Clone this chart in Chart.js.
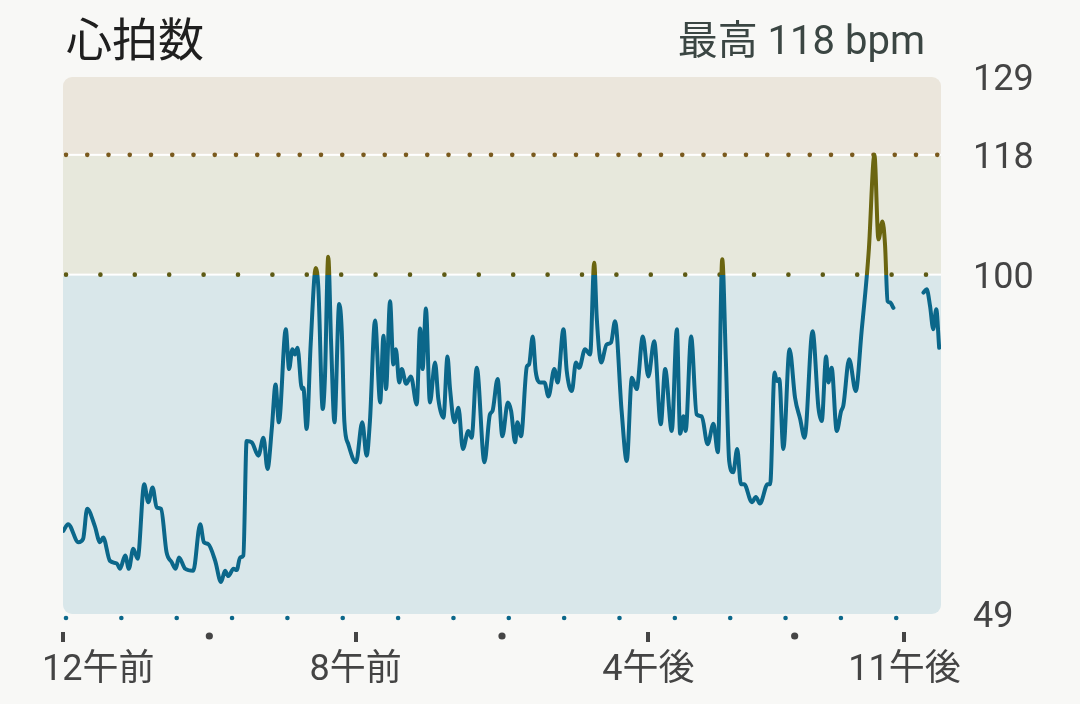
<!DOCTYPE html>
<html lang="ja">
<head>
<meta charset="utf-8">
<title>心拍数</title>
<script src="https://cdn.jsdelivr.net/npm/chart.js@4.4.1/dist/chart.umd.min.js"></script>
<style>
  html, body { margin: 0; padding: 0; background: #f8f8f6; }
  #wrap { position: relative; width: 1080px; height: 704px; overflow: hidden; }
  canvas { position: absolute; left: 0; top: 0; }
  .head { position: absolute; white-space: nowrap; font-family: Roboto, "Noto Sans CJK JP", sans-serif; }
  #title { left: 66px; top: 15px; font-size: 46px; line-height: 50px; color: #1f1f1f; }
  #peak { right: 155px; top: 19px; font-size: 40px; line-height: 44px; color: #3b4643; }
</style>
</head>
<body>
<div id="wrap">
  <canvas id="chart" width="1080" height="704"></canvas>
  <div class="head" id="title">心拍数</div>
  <div class="head" id="peak"></div>
</div>
<script>
// Heart rate samples: hour of day and bpm (null = no reading)
const hours = [
  0.01, 0.14, 0.42, 0.55, 0.66, 0.87, 1.01, 1.10, 1.28, 1.47,
  1.56, 1.70, 1.80, 1.92, 2.04, 2.22, 2.33, 2.45, 2.56, 2.68,
  2.83, 2.97, 3.08, 3.17, 3.34, 3.56, 3.75, 3.85, 3.97, 4.16,
  4.32, 4.43, 4.52, 4.66, 4.75, 4.84, 4.93, 5.02, 5.16, 5.34,
  5.48, 5.59, 5.71, 5.81, 5.90, 6.09, 6.18, 6.27, 6.34, 6.41,
  6.53, 6.57, 6.66, 6.77, 6.91, 6.98, 7.10, 7.16, 7.25, 7.33,
  7.42, 7.55, 7.62, 7.69, 7.80, 8.01, 8.18, 8.30, 8.39, 8.53,
  8.67, 8.76, 8.83, 8.94, 9.03, 9.10, 9.19, 9.26, 9.38, 9.51,
  9.67, 9.76, 9.83, 9.92, 10.03, 10.17, 10.26, 10.40, 10.51, 10.58,
  10.70, 10.81, 10.93, 11.08, 11.17, 11.31, 11.52, 11.67, 11.74, 11.88,
  12.01, 12.16, 12.25, 12.36, 12.42, 12.52, 12.68, 12.74, 12.84, 12.92,
  13.04, 13.16, 13.27, 13.43, 13.52, 13.68, 13.77, 13.91, 14.02, 14.11,
  14.27, 14.41, 14.52, 14.59, 14.71, 14.86, 14.98, 15.09, 15.27, 15.41,
  15.55, 15.68, 15.85, 16.00, 16.16, 16.34, 16.46, 16.64, 16.78, 16.87,
  16.96, 17.02, 17.17, 17.32, 17.46, 17.62, 17.78, 17.90, 18.02, 18.12,
  18.21, 18.32, 18.43, 18.53, 18.62, 18.83, 18.94, 19.05, 19.26, 19.33,
  19.45, 19.51, 19.58, 19.69, 19.86, 20.01, 20.15, 20.27, 20.49, 20.65,
  20.74, 20.86, 20.92, 21.01, 21.15, 21.27, 21.33, 21.49, 21.67, 21.83,
  21.97, 22.03, 22.18, 22.29, 22.40, 22.47, 22.54, 22.61, 22.70, 23.10,
  23.52, 23.61, 23.70, 23.79, 23.87, 23.95
];
const bpm = [
  61.5, 62.5, 59.8, 60.3, 64.8, 62.2, 59.8, 60.5, 57.0, 56.6,
  55.8, 57.8, 55.8, 58.8, 57.3, 68.5, 65.8, 68.0, 65.0, 64.8,
  58.3, 56.8, 55.8, 57.5, 55.8, 55.5, 62.5, 59.8, 59.5, 57.0,
  53.8, 55.5, 54.7, 55.8, 55.6, 57.5, 57.8, 75.0, 74.8, 72.8,
  75.5, 70.8, 77.0, 83.5, 77.8, 91.8, 85.8, 88.8, 88.0, 89.0,
  82.8, 83.0, 76.8, 89.5, 101.0, 98.0, 79.8, 84.5, 102.7, 89.5,
  77.8, 95.6, 91.5, 78.0, 74.5, 71.8, 77.8, 72.8, 78.0, 93.1,
  80.8, 90.8, 82.8, 96.0, 86.5, 88.8, 83.8, 85.8, 83.6, 84.7,
  80.5, 91.9, 85.8, 94.9, 80.8, 86.8, 81.3, 78.5, 87.7, 82.8,
  77.8, 80.0, 73.8, 76.5, 75.5, 86.0, 71.8, 79.0, 79.5, 84.3,
  75.7, 80.8, 79.5, 74.8, 77.8, 75.7, 86.2, 86.5, 90.7, 85.5,
  83.8, 83.8, 81.7, 85.8, 83.8, 91.8, 85.5, 82.5, 86.8, 86.0,
  88.8, 88.0, 101.8, 93.5, 86.8, 89.5, 89.8, 93.0, 79.5, 72.0,
  84.5, 82.8, 90.7, 84.7, 90.0, 77.5, 85.8, 76.5, 91.8, 76.1,
  78.7, 76.5, 90.7, 79.0, 78.7, 74.5, 77.6, 73.3, 102.3, 87.0,
  72.0, 70.3, 73.8, 68.5, 68.5, 65.8, 66.6, 65.6, 68.5, 68.5,
  85.3, 84.0, 84.3, 73.8, 88.8, 81.5, 78.3, 75.5, 91.5, 80.0,
  78.0, 87.7, 83.8, 86.0, 76.5, 79.5, 80.3, 87.3, 82.5, 91.5,
  99.7, 104.0, 118, 105.3, 108.0, 104.5, 96.0, 95.8, 95.0, null,
  97.3, 97.8, 95.3, 91.8, 94.8, 89.0
];

// Axes
const xTickHours = [0, 8, 16, 23];
const xTickLabels = ["12午前", "8午前", "4午後", "11午後"];
const xDotHours = [4, 12, 20];
const yMin = 49;
const yMax = 129.7; // top of the panel, labelled 129
const yTicks = [49, 100, 118, 129];
const zoneLow = 100;
const zoneHigh = 118;

const BLUE = "#0b678a";
const OLIVE = "#6b6510";
const LABEL_FONT = { family: "Roboto, 'Noto Sans CJK JP', sans-serif", size: 36, lineHeight: 1.2 };
const X_PAD = 35;

document.getElementById("peak").textContent =
  "最高 " + Math.max(...bpm.filter((v) => v !== null)) + " bpm";

function dotRow(ctx, x0, x1, y, step, color, r) {
  ctx.fillStyle = color;
  for (let x = x0; x <= x1; x += step) {
    ctx.beginPath();
    ctx.arc(x, y, r, 0, Math.PI * 2);
    ctx.fill();
  }
}

const zonePlugin = {
  id: "zones",
  beforeDatasetsDraw(chart) {
    const { ctx, chartArea: a, scales } = chart;
    const yHigh = scales.y.getPixelForValue(zoneHigh);
    const yLow = scales.y.getPixelForValue(zoneLow);
    ctx.save();
    ctx.beginPath();
    ctx.roundRect(a.left, a.top, a.width, a.height, 9);
    ctx.clip();
    ctx.fillStyle = "#ebe6dc";
    ctx.fillRect(a.left, a.top, a.width, yHigh - a.top);
    ctx.fillStyle = "#e7e8dc";
    ctx.fillRect(a.left, yHigh, a.width, yLow - yHigh);
    ctx.fillStyle = "#d9e7ea";
    ctx.fillRect(a.left, yLow, a.width, a.bottom - yLow);
    // white zone separators
    ctx.fillStyle = "#ffffff";
    ctx.fillRect(a.left, yHigh - 1, a.width, 2);
    ctx.fillRect(a.left, yLow - 1, a.width, 2);
    ctx.restore();
    ctx.save();
    dotRow(ctx, a.left + 3, a.right - 2, yHigh, 21.25, "#7a5a1e", 2.3);
    dotRow(ctx, a.left + 3, a.right - 2, yLow, 34.4, "#5e5a14", 2.3);
    ctx.restore();
  },
  afterDraw(chart) {
    const { ctx, chartArea: a, scales } = chart;
    const x = scales.x;
    ctx.save();
    dotRow(ctx, a.left + 3, a.right - 20, a.bottom + 4, 55.35, BLUE, 2.3);
    ctx.fillStyle = "#454545";
    for (const h of xTickHours) {
      const px = x.getPixelForValue(h);
      ctx.fillRect(Math.round(px) - 2, a.bottom + 18, 4, 10);
    }
    for (const h of xDotHours) {
      ctx.beginPath();
      ctx.arc(x.getPixelForValue(h), a.bottom + 22, 3.6, 0, Math.PI * 2);
      ctx.fill();
    }
    // first label is kept inside the left margin instead of centred on its tick
    ctx.font = LABEL_FONT.size + "px " + LABEL_FONT.family;
    ctx.fillStyle = "#444444";
    ctx.textAlign = "left";
    ctx.textBaseline = "middle";
    const w = ctx.measureText(xTickLabels[0]).width;
    const left = Math.max(x.getPixelForValue(xTickHours[0]) - w / 2, 42);
    ctx.fillText(xTickLabels[0], left, x.top + X_PAD + (LABEL_FONT.size * LABEL_FONT.lineHeight) / 2);
    ctx.restore();
  },
};

function lineColor(context) {
  const { chart } = context;
  const a = chart.chartArea;
  if (!a) return BLUE;
  const yLow = chart.scales.y.getPixelForValue(zoneLow);
  const g = chart.ctx.createLinearGradient(0, a.top, 0, a.bottom);
  const stop = Math.min(Math.max((yLow - a.top) / (a.bottom - a.top), 0), 1);
  g.addColorStop(0, OLIVE);
  g.addColorStop(stop, OLIVE);
  g.addColorStop(stop, BLUE);
  g.addColorStop(1, BLUE);
  return g;
}

new Chart(document.getElementById("chart"), {
  type: "line",
  data: {
    datasets: [
      {
        data: hours.map((h, i) => ({ x: h, y: bpm[i] })),
        borderColor: lineColor,
        borderWidth: 4,
        pointRadius: 0,
        cubicInterpolationMode: "monotone",
        spanGaps: false,
        borderCapStyle: "round",
        borderJoinStyle: "round",
      },
    ],
  },
  options: {
    responsive: false,
    animation: false,
    devicePixelRatio: 1,
    layout: { padding: { left: 63, top: 77, right: 0, bottom: 0 } },
    plugins: { legend: { display: false }, tooltip: { enabled: false } },
    scales: {
      x: {
        type: "linear",
        min: 0,
        max: 24,
        grid: { display: false, drawTicks: false },
        border: { display: false },
        afterBuildTicks: (scale) => {
          scale.ticks = xTickHours.map((v) => ({ value: v }));
        },
        afterFit: (scale) => {
          scale.height = 90;
        },
        ticks: {
          autoSkip: false,
          maxRotation: 0,
          padding: X_PAD,
          color: "#444444",
          font: LABEL_FONT,
          callback: (v, i) => (i === 0 ? "" : xTickLabels[i]),
        },
      },
      y: {
        position: "right",
        min: yMin,
        max: yMax,
        grid: { display: false, drawTicks: false },
        border: { display: false },
        afterBuildTicks: (scale) => {
          scale.ticks = yTicks.map((v, i) => ({ value: i === yTicks.length - 1 ? yMax : v }));
        },
        afterFit: (scale) => {
          scale.width = 139;
        },
        ticks: {
          padding: 32,
          labelOffset: 4,
          color: "#444444",
          font: { family: "Roboto, 'Noto Sans CJK JP', sans-serif", size: 36 },
          callback: (v) => Math.floor(v),
        },
      },
    },
  },
  plugins: [zonePlugin],
});
</script>
</body>
</html>
